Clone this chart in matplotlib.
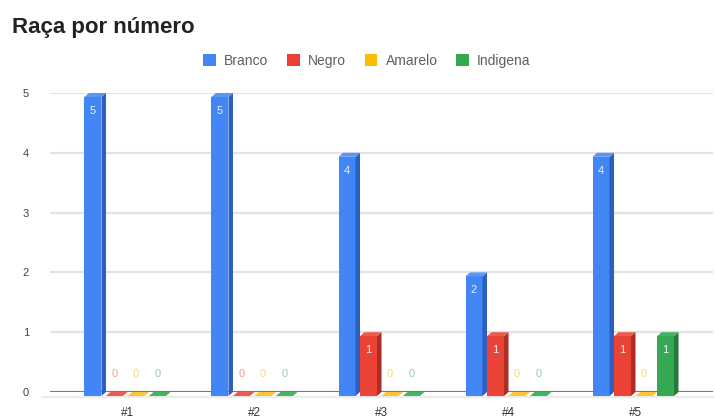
import matplotlib
matplotlib.use("Agg")
import matplotlib.pyplot as plt
from matplotlib.patches import Polygon, Patch
import numpy as np

plt.rcParams['font.family'] = ['Liberation Sans', 'DejaVu Sans']

categories = ["#1", "#2", "#3", "#4", "#5"]
series_names = ["Branco", "Negro", "Amarelo", "Indigena"]
branco = [5, 5, 4, 2, 4]
negro = [0, 0, 1, 1, 1]
amarelo = [0, 0, 0, 0, 0]
indigena = [0, 0, 0, 0, 1]
series_values = [branco, negro, amarelo, indigena]
yticks = [0, 1, 2, 3, 4, 5]

front_colors = ["#4285F4", "#EA4335", "#FBBC04", "#34A853"]
top_colors = ["#5a96f6", "#ee5a4d", "#fcc631", "#45b364"]
side_colors = ["#2c5fbf", "#ad2d24", "#c99300", "#227a3b"]
zero_label_colors = ["#9cbff9", "#f39d95", "#fdd66f", "#8fd1a1"]

W, H = 715, 419
fig = plt.figure(figsize=(W / 100, H / 100), dpi=100)
ax_left, ax_right = 50, 713
ax_top, ax_bot = 93, 392
ax = fig.add_axes([ax_left / W, 1 - ax_bot / H, (ax_right - ax_left) / W, (ax_bot - ax_top) / H])
xmin, xmax = -0.61, 4.61
ymin, ymax = 0, 5
ax.set_xlim(xmin, xmax)
ax.set_ylim(ymin, ymax)

px_x = (ax_right - ax_left) / (xmax - xmin)  # pixels per x unit
px_y = (ax_bot - ax_top) / (ymax - ymin)     # pixels per y unit

dx = 4.5 / px_x
dy = 4.0 / px_y
slot = 21.5 / px_x
fw = slot - dx

# gridlines
for t in yticks[1:]:
    ax.axhline(t, color="#e3e3e3", lw=1.6, zorder=0)
ax.axhline(0, color="#777777", lw=1.5, zorder=1)
# floor front edge (light)
ax.plot([xmin - 0.06, xmax], [-dy - 0.02, -dy - 0.02], color="#e8e8e8", lw=1.2,
        clip_on=False, zorder=0.5)

n = len(series_values)
for i, vals in enumerate(series_values):
    for j, v in enumerate(vals):
        xs = j + (i - n / 2) * slot
        front = Polygon([(xs, -dy), (xs + fw, -dy), (xs + fw, v - dy), (xs, v - dy)],
                        closed=True, facecolor=front_colors[i], edgecolor="none",
                        clip_on=False, zorder=3)
        ax.add_patch(front)
        side = Polygon([(xs + fw, -dy), (xs + fw + dx, 0), (xs + fw + dx, v), (xs + fw, v - dy)],
                       closed=True, facecolor=side_colors[i], edgecolor="none",
                       clip_on=False, zorder=3)
        ax.add_patch(side)
        top = Polygon([(xs, v - dy), (xs + fw, v - dy), (xs + fw + dx, v), (xs + dx, v)],
                      closed=True, facecolor=top_colors[i], edgecolor="none",
                      clip_on=False, zorder=3)
        ax.add_patch(top)
        cx = xs + fw / 2
        if v > 0:
            ax.text(cx, v - dy - 14 / px_y, str(v), ha="center", va="center",
                    fontsize=8, color="#eef3fe", zorder=4)
        else:
            ax.text(cx, 18 / px_y, str(v), ha="center", va="center",
                    fontsize=8, color=zero_label_colors[i], zorder=4)

for s in ax.spines.values():
    s.set_visible(False)
ax.set_yticks(yticks)
ax.set_yticklabels([str(t) for t in yticks])
ax.tick_params(axis="y", length=0, pad=15, labelsize=8, labelcolor="#444444")
ax.set_xticks(range(len(categories)))
ax.set_xticklabels(categories)
ax.tick_params(axis="x", length=0, pad=11, labelsize=8.5, labelcolor="#333333")

fig.text(12 / W, 1 - 33 / H, "Raça por número", fontsize=16, fontweight="bold",
         color="#222222", ha="left", va="baseline")

handles = [Patch(facecolor=c, edgecolor="none") for c in front_colors]
leg = fig.legend(handles, series_names, loc="center", bbox_to_anchor=(367 / W, 1 - 61 / H),
                 ncol=4, frameon=False, fontsize=10, handlelength=0.9, handleheight=0.9,
                 handletextpad=0.6, columnspacing=1.35, borderaxespad=0)
for t in leg.get_texts():
    t.set_color("#5f5f5f")

fig.savefig("out.png", dpi=100)
